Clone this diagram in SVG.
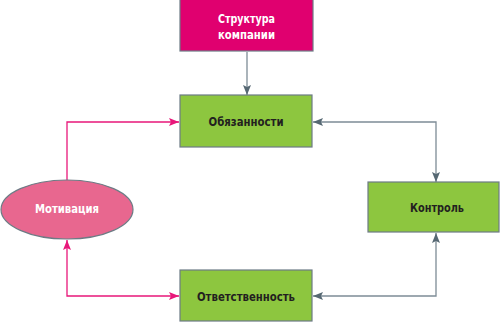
<svg xmlns="http://www.w3.org/2000/svg" width="500" height="322" viewBox="0 0 500 322">
<defs>
<style>
.box{fill:#8dc63f;stroke:#6d7b85;stroke-width:1.2}
.t{font-family:"DejaVu Sans Condensed","DejaVu Sans",sans-serif;font-weight:bold;font-size:13px;text-anchor:middle;dominant-baseline:central;fill:#231f20}
.w{fill:#ffffff}
.g{fill:none;stroke:#7d8c96;stroke-width:1.3}
.p{fill:none;stroke:#e8177a;stroke-width:1.3}
</style>
<marker id="ag" viewBox="0 0 10 8" refX="10" refY="4" markerWidth="10" markerHeight="8" markerUnits="userSpaceOnUse" orient="auto-start-reverse"><path d="M0,0 L10,4 L0,8 L2,4 Z" fill="#566873"/></marker>
<marker id="ap" viewBox="0 0 10 8" refX="10" refY="4" markerWidth="10" markerHeight="8" markerUnits="userSpaceOnUse" orient="auto-start-reverse"><path d="M0,0 L10,4 L0,8 L2,4 Z" fill="#e8177a"/></marker>
</defs>
<g id="connectors">
<path class="g" d="M247,52 L247,95" marker-end="url(#ag)"/>
<path class="g" d="M313,122 L436,122 L436,182" marker-start="url(#ag)" marker-end="url(#ag)"/>
<path class="g" d="M436,233 L436,296 L313,296" marker-start="url(#ag)" marker-end="url(#ag)"/>
<path class="p" d="M67,180 L67,122 L179,122" marker-end="url(#ap)"/>
<path class="p" d="M67,240 L67,296 L179,296" marker-start="url(#ap)" marker-end="url(#ap)"/>
</g>
<g id="struktura">
<rect x="180" y="-1" width="133" height="52" fill="#e0006f" stroke="#6d7b85" stroke-width="1.2"/>
<text class="t w" x="246.5" y="18" textLength="57" lengthAdjust="spacingAndGlyphs">Структура</text>
<text class="t w" x="246.5" y="34" textLength="57" lengthAdjust="spacingAndGlyphs">компании</text>
</g>
<g id="obyazannosti">
<rect class="box" x="180" y="95" width="132" height="52"/>
<text class="t" x="246" y="121" textLength="75" lengthAdjust="spacingAndGlyphs">Обязанности</text>
</g>
<g id="motivatsiya">
<ellipse cx="67" cy="209.5" rx="66" ry="29.5" fill="#e8678f" stroke="#6d7b85" stroke-width="1.2"/>
<text class="t w" x="67" y="208" textLength="64" lengthAdjust="spacingAndGlyphs">Мотивация</text>
</g>
<g id="kontrol">
<rect class="box" x="368" y="182" width="131" height="50"/>
<text class="t" x="437" y="207" textLength="54" lengthAdjust="spacingAndGlyphs">Контроль</text>
</g>
<g id="otvetstvennost">
<rect class="box" x="180" y="270" width="132" height="51"/>
<text class="t" x="246" y="296" textLength="98" lengthAdjust="spacingAndGlyphs">Ответственность</text>
</g>
</svg>
